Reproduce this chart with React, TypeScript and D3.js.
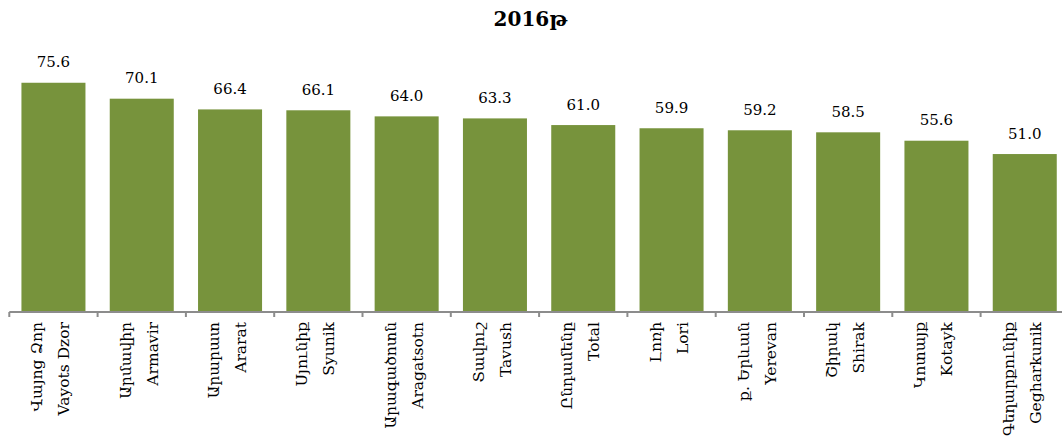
import React from "react";
import * as d3 from "d3";

const title = "2016թ";
const categoriesHy = [
  "Վայոց Ձոր",
  "Արմավիր",
  "Արարատ",
  "Սյունիք",
  "Արագածոտն",
  "Տավուշ",
  "Ընդամենը",
  "Լոռի",
  "ք. Երևան",
  "Շիրակ",
  "Կոտայք",
  "Գեղարքունիք",
];
const categoriesEn = [
  "Vayots Dzor",
  "Armavir",
  "Ararat",
  "Syunik",
  "Aragatsotn",
  "Tavush",
  "Total",
  "Lori",
  "Yerevan",
  "Shirak",
  "Kotayk",
  "Gegharkunik",
];
const values = [75.6, 70.1, 66.4, 66.1, 64.0, 63.3, 61.0, 59.9, 59.2, 58.5, 55.6, 51.0];

const W = 1062;
const H = 436;
const FONT = "'DejaVu Serif', 'Liberation Serif', serif";

export default function App() {
  const x = d3
    .scaleBand<string>()
    .domain(categoriesEn)
    .range([9.3, 9.3 + 88.3 * 12])
    .paddingInner(0.275)
    .paddingOuter(0.1375);
  const y = d3.scaleLinear().domain([-3.5, 80]).range([312, 70]);
  const baseY = 312;
  const step = x.step();
  const start = x.range()[0];
  const ticks = d3.range(0, categoriesEn.length + 1).map((i) => start + i * step);

  return (
    <svg
      width={W}
      height={H}
      style={{ position: "absolute", left: 0, top: 0, background: "#fff" }}
    >
      <text
        x={530.5}
        y={26}
        textAnchor="middle"
        fontFamily={FONT}
        fontWeight="bold"
        fontSize={20}
        fill="#000"
      >
        {title}
      </text>
      {categoriesEn.map((c, i) => {
        const bx = x(c)!;
        const v = values[i];
        return (
          <g key={c}>
            <rect
              x={bx}
              y={y(v)}
              width={x.bandwidth()}
              height={baseY - y(v)}
              fill="#77933C"
            />
            <text
              x={bx + x.bandwidth() / 2}
              y={y(v) - 15.5}
              textAnchor="middle"
              fontFamily={FONT}
              fontSize={15}
              fill="#000"
            >
              {v.toFixed(1)}
            </text>
          </g>
        );
      })}
      <line x1={start} x2={W} y1={baseY} y2={baseY} stroke="#8c8c8c" strokeWidth={2} />
      {ticks.map((t, i) => (
        <line key={i} x1={t} x2={t} y1={baseY} y2={baseY + 5} stroke="#8c8c8c" strokeWidth={2} />
      ))}
      {categoriesEn.map((c, i) => {
        const cx = x(c)! + x.bandwidth() / 2;
        return (
          <g key={"l" + c} fontFamily={FONT} fontSize={15.5} fill="#000">
            <text transform={`translate(${cx - 11},322) rotate(-90)`} textAnchor="end">
              {categoriesHy[i]}
            </text>
            <text transform={`translate(${cx + 16},322) rotate(-90)`} textAnchor="end">
              {c}
            </text>
          </g>
        );
      })}
    </svg>
  );
}
